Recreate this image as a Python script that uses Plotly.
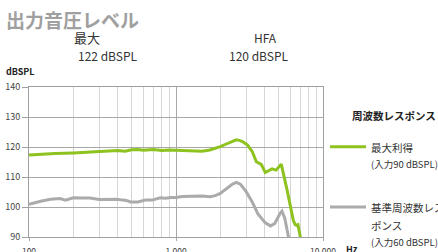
import plotly.graph_objects as go

# ---- data ----
green_freq = [100, 120, 150, 200, 250, 300, 400, 450, 500, 550, 600, 700, 800, 900, 1000,
              1100, 1200, 1400, 1500, 1700, 1800, 2000, 2200, 2340, 2450, 2570, 2700, 2830,
              3060, 3300, 3520, 3800, 4050, 4250, 4500, 4800, 5200, 5700, 6000, 6280, 6450,
              6600, 6750, 7050]
green_vals = [117.3, 117.6, 117.8, 118.0, 118.2, 118.5, 118.8, 118.6, 119.1, 119.2, 118.9,
              119.2, 118.8, 119.0, 118.9, 118.7, 118.8, 118.5, 118.6, 119.0, 119.3, 120.1,
              121.0, 121.5, 122.0, 122.4, 122.2, 121.8, 120.7, 118.5, 115.1, 114.2, 111.5,
              112.1, 112.7, 112.3, 114.3, 105.6, 100.0, 95.6, 94.2, 93.9, 94.1, 89.5]

gray_freq = [100, 110, 120, 140, 163, 177, 200, 230, 260, 300, 350, 390, 420, 460, 490, 550,
             620, 690, 780, 850, 920, 1000, 1100, 1250, 1400, 1500, 1710, 1850, 2000, 2170,
             2400, 2570, 2740, 3000, 3300, 3600, 4050, 4400, 4700, 5100, 5260, 5500, 5850]
gray_vals = [100.9, 101.3, 101.9, 102.6, 102.8, 102.3, 103.05, 103.0, 103.0, 102.5, 102.7,
             102.6, 102.4, 102.2, 101.7, 101.7, 102.3, 102.3, 103.05, 102.9, 103.2, 103.2,
             103.5, 103.6, 103.5, 103.7, 103.4, 103.8, 104.5, 105.9, 107.5, 108.2, 107.6,
             105.1, 101.7, 97.8, 94.7, 93.7, 94.5, 97.8, 98.6, 96.2, 89.5]

x_major = [100, 1000, 10000]
x_major_text = ["100", "1,000", "10,000"]
x_minor = [200, 300, 400, 500, 600, 700, 800, 900,
           2000, 3000, 4000, 5000, 6000, 7000, 8000, 9000]
y_ticks = [90, 100, 110, 120, 130, 140]

title_text = "出力音圧レベル"
legend_title = "周波数レスポンス"
s1_name = ["最大利得", "(入力90 dBSPL)"]
s2_name = ["基準周波数レス", "ポンス", "(入力60 dBSPL)"]

GREEN = "#8dc21f"
GRAY = "#ababab"
W, H = 438, 252
L, R, T, B = 29, 115, 87, 15
FONT = "Noto Sans CJK JP"

def px(x):
    return (x - L) / (W - L - R)

def py(y):
    return (H - B - y) / (H - T - B)

fig = go.Figure()
fig.add_trace(go.Scatter(x=green_freq, y=green_vals, mode="lines",
                         line=dict(color=GREEN, width=3), showlegend=False, hoverinfo="skip"))
fig.add_trace(go.Scatter(x=gray_freq, y=gray_vals, mode="lines",
                         line=dict(color=GRAY, width=3), showlegend=False, hoverinfo="skip"))

anns = []
def ann(text, x, y, size, color="#333333", xanchor="left", bold=False):
    if bold:
        text = "<b>" + text + "</b>"
    anns.append(dict(text=text, x=px(x), y=py(y), xref="paper", yref="paper",
                     xanchor=xanchor, yanchor="middle", showarrow=False,
                     font=dict(family=FONT, size=size, color=color)))

ann(title_text, 4, 19, 19, color="#a0a0a0", bold=True)
ann("最大", 86.5, 37.5, 13, xanchor="center")
ann("122 dBSPL", 108, 56, 12, xanchor="center")
ann("HFA", 265.5, 37.5, 12, xanchor="center")
ann("120 dBSPL", 259, 56, 12, xanchor="center")
ann("dBSPL", 4, 72, 9, color="#222222", bold=True)
ann(legend_title, 350, 115, 10.5, color="#222222", bold=True)
ann(s1_name[0], 369, 147, 10.5)
ann(s1_name[1], 369, 164, 9.5)
ann(s2_name[0], 369, 207, 10.5)
ann(s2_name[1], 369, 225, 10.5)
ann(s2_name[2], 369, 242, 9.5)
ann("Hz", 344, 249, 9, color="#222222", bold=True)

shapes = [
    dict(type="line", xref="paper", yref="paper", x0=px(330), x1=px(366), y0=py(146.7), y1=py(146.7),
         line=dict(color=GREEN, width=3)),
    dict(type="line", xref="paper", yref="paper", x0=px(330), x1=px(366), y0=py(207), y1=py(207),
         line=dict(color=GRAY, width=3)),
]

fig.update_layout(
    width=W, height=H, autosize=False,
    margin=dict(l=L, r=R, t=T, b=B, pad=0, autoexpand=False),
    paper_bgcolor="white", plot_bgcolor="white",
    annotations=anns, shapes=shapes,
    font=dict(family=FONT, size=9, color="#444444"),
    xaxis=dict(type="log", range=[2, 4], tickvals=x_major, ticktext=x_major_text,
               automargin=False,
               showgrid=True, gridcolor="#a8a8a8", gridwidth=1,
               ticks="outside", ticklen=3, tickcolor="#a8a8a8",
               ticklabelstandoff=4,
               minor=dict(tickvals=x_minor, showgrid=True, gridcolor="#d6d6d6", ticks=""),
               showline=True, linecolor="#a0a0a0", mirror=True, zeroline=False,
               tickfont=dict(family=FONT, size=8.5, color="#444444")),
    yaxis=dict(range=[90, 140], tickvals=y_ticks, showgrid=True, gridcolor="#a8a8a8",
               automargin=False,
               ticks="outside", ticklen=6, tickcolor="#a0a0a0",
               showline=True, linecolor="#a0a0a0", mirror=True, zeroline=False,
               tickfont=dict(family=FONT, size=9, color="#444444")),
)

fig.write_html("out.html", config={"displayModeBar": False},
               post_script="document.body.style.margin='0';document.body.style.overflow='hidden';")
